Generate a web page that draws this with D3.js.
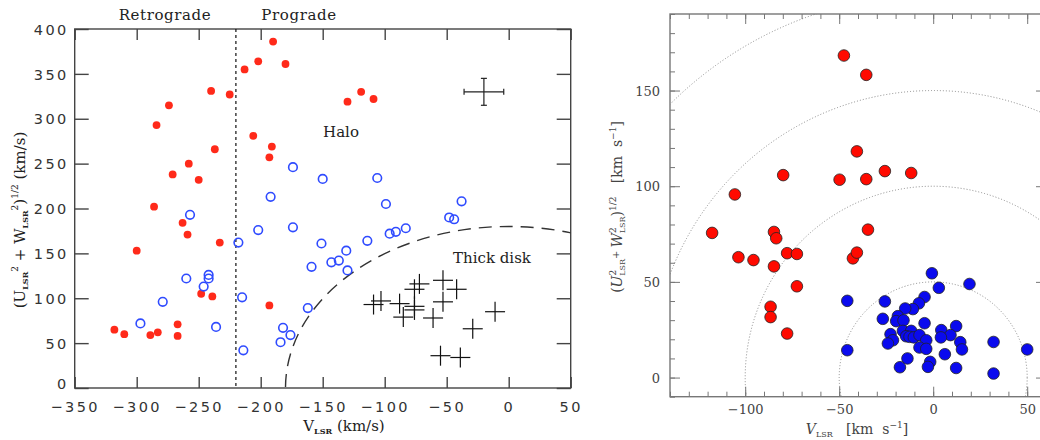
<!DOCTYPE html>
<html>
<head>
<meta charset="utf-8">
<script src="https://cdn.jsdelivr.net/npm/d3@7"></script>
<style>
  body { margin: 0; background: #fff; }
  svg { display: block; }
  .pre { white-space: pre; }
</style>
</head>
<body>
<div id="chart"></div>
<script>
// ---- left panel (Toomre diagram) ----
const haloRed = [
  [-190, 386], [-213, 355], [-202, 364], [-180, 361], [-240, 331], [-225, 327],
  [-274, 315], [-284, 293], [-206, 281], [-191, 269], [-237, 266], [-193, 257],
  [-258, 250], [-271, 238], [-250, 232], [-286, 202], [-119, 330], [-109, 322],
  [-130, 319], [-263, 184], [-259, 171], [-233, 162], [-300, 153], [-248, 105],
  [-239, 102], [-193, 92], [-267, 71], [-318, 65], [-310, 60], [-289, 59],
  [-283, 62], [-267, 58]
];
const haloBlue = [
  [-174, 246], [-192, 213], [-257, 193], [-150, 233], [-106, 234], [-99, 205],
  [-38, 208], [-48, 190], [-44, 188], [-174, 179], [-96, 172], [-91, 174],
  [-83, 178], [-151, 161], [-114, 164], [-131, 153], [-159, 135], [-143, 140],
  [-137, 142], [-130, 131], [-162, 89], [-182, 67], [-176, 59], [-184, 51],
  [-202, 176], [-218, 162], [-260, 122], [-242, 126], [-242, 122], [-246, 113],
  [-279, 96], [-215, 101], [-297, 72], [-236, 68], [-214, 42]
];
const thickDisk = [
  [-72, 116], [-76, 110], [-53, 120], [-42, 110], [-103, 97], [-109, 93],
  [-88, 94], [-76, 91], [-53, 96], [-76, 87], [-85, 79], [-61, 78],
  [-11, 85], [-29, 66], [-55, 36], [-39, 34]
];
const errV = -20, errY = 330, errDV = 16, errDY = 15;
const diskRadius = 180;      // dashed thick disk boundary
const progradeLimit = -220;  // dotted retrograde / prograde split
const leftXTicks = [-350, -300, -250, -200, -150, -100, -50, 0, 50];
const leftYTicks = [0, 50, 100, 150, 200, 250, 300, 350, 400];

// ---- right panel ----
const rightRed = [
  [-47.5, 168.3], [-35.6, 158.2], [-40.6, 118.2], [-79.8, 105.8], [-105.5, 95.7],
  [-49.8, 103.4], [-35.6, 103.7], [-25.7, 107.9], [-11.7, 106.9], [-117.6, 75.6],
  [-84.7, 76.1], [-83.5, 72.8], [-34.7, 77.3], [-103.6, 62.9], [-95.6, 61.4],
  [-77.7, 65], [-72.5, 64.6], [-84.7, 58.1], [-42.7, 62.3], [-40.6, 65.3],
  [-72.5, 47.7], [-86.5, 37], [-86.5, 31.6], [-77.7, 23]
];
const rightBlue = [
  [-0.7, 54.5], [19.3, 48.9], [3, 46.9], [-45.7, 40.1], [-25.7, 39.8], [-4.6, 42.1],
  [-7.6, 38.8], [-10.8, 35.8], [-14.9, 36.1], [-26.8, 30.7], [-18.8, 32.1], [-19.7, 29.5],
  [-15.8, 29.9], [-4.6, 28.4], [12.2, 26.9], [4.3, 24.8], [9.2, 22.2], [4.1, 21],
  [-16.1, 24.4], [-11.7, 24.4], [-22.7, 22.7], [-14.4, 21.6], [-12.6, 21.3], [-10.3, 21],
  [-7.3, 22.2], [-3.7, 19.5], [-21.4, 19.5], [-24.1, 17.8], [14.4, 18.5], [32.1, 18.6],
  [-45.7, 14.3], [-7.3, 15.7], [-3.7, 15], [15.3, 14.7], [6.2, 12.2], [50, 14.7],
  [-13.7, 10], [-1.6, 8.2], [-17.7, 5.4], [-2.8, 5.6], [12.2, 5], [32.1, 2.1]
];
const rings = [50, 100, 150, 200];
const rightXTicks = [-100, -50, 0, 50];
const rightYTicks = [0, 50, 100, 150];
const rightMinor = 10;

const W = 1040, H = 440;
const svg = d3.select('#chart').append('svg').attr('width', W).attr('height', H);
const defs = svg.append('defs');

// write text made of pieces with sub / superscripts
function richText(sel, parts) {
  let shift = 0;
  parts.forEach(p => {
    const s = p.s || 0;
    const ts = sel.append('tspan').text(p.t).attr('dy', s - shift);
    shift = s;
    if (p.size) ts.attr('font-size', p.size);
    if (p.dx) ts.attr('dx', p.dx);
    if (p.it) ts.attr('font-style', 'italic');
    if (p.bold) ts.attr('font-weight', 'bold');
  });
}

function styleAxis(g, color, width) {
  g.select('.domain').remove();
  g.selectAll('.tick line').attr('stroke', color).attr('stroke-width', width);
}

function drawLeft() {
  const x = d3.scaleLinear().domain([-350, 50]).range([74.7, 570.7]);
  const y = d3.scaleLinear().domain([0, 400]).range([388, 29]);
  const g = svg.append('g').attr('class', 'left');
  const axisColor = '#444';

  defs.append('clipPath').attr('id', 'clipL').append('rect')
    .attr('x', x(-350)).attr('y', y(400))
    .attr('width', x(50) - x(-350)).attr('height', y(0) - y(400));

  // ticks all around, pointing in
  const bottom = g.append('g').attr('transform', `translate(0,${y(0)})`)
    .call(d3.axisBottom(x).tickValues(leftXTicks).tickSize(-11).tickPadding(14));
  const left = g.append('g').attr('transform', `translate(${x(-350)},0)`)
    .call(d3.axisLeft(y).tickValues(leftYTicks).tickSize(-14).tickPadding(6));
  const top = g.append('g').attr('transform', `translate(0,${y(400)})`)
    .call(d3.axisTop(x).tickValues(leftXTicks).tickSize(-11).tickFormat(''));
  const right = g.append('g').attr('transform', `translate(${x(50)},0)`)
    .call(d3.axisRight(y).tickValues(leftYTicks).tickSize(-14).tickFormat(''));
  [bottom, left, top, right].forEach(a => styleAxis(a, axisColor, 1.4));
  [bottom, left].forEach(a => a.selectAll('text')
    .attr('font-family', 'DejaVu Sans').attr('font-size', 14.5)
    .attr('letter-spacing', '2.4px').attr('fill', '#333'));
  left.selectAll('text').attr('dy', '0.36em');
  left.selectAll('.tick').filter(d => d === 0).select('text').attr('dy', '0.05em');
  bottom.selectAll('text').attr('dy', '0.72em');

  g.append('rect')
    .attr('x', x(-350)).attr('y', y(400))
    .attr('width', x(50) - x(-350)).attr('height', y(0) - y(400))
    .attr('fill', 'none').attr('stroke', axisColor).attr('stroke-width', 1.4);

  // retrograde / prograde split
  g.append('line')
    .attr('x1', x(progradeLimit)).attr('x2', x(progradeLimit))
    .attr('y1', y(400)).attr('y2', y(0))
    .attr('stroke', '#111').attr('stroke-width', 1.2).attr('stroke-dasharray', '3,3');

  // thick disk boundary (circle of constant total speed)
  g.append('ellipse')
    .attr('cx', x(0)).attr('cy', y(0))
    .attr('rx', x(diskRadius) - x(0)).attr('ry', y(0) - y(diskRadius))
    .attr('fill', 'none').attr('stroke', '#333').attr('stroke-width', 1.4)
    .attr('stroke-dasharray', '13,8').attr('clip-path', 'url(#clipL)');

  g.append('g').selectAll('circle').data(haloRed).join('circle')
    .attr('cx', d => x(d[0])).attr('cy', d => y(d[1])).attr('r', 3.9)
    .attr('fill', '#ff2a1a');

  g.append('g').selectAll('circle').data(haloBlue).join('circle')
    .attr('cx', d => x(d[0])).attr('cy', d => y(d[1])).attr('r', 4.3)
    .attr('fill', 'none').attr('stroke', '#2f4bff').attr('stroke-width', 1.6);

  const arm = 10;
  const crosses = g.append('g').selectAll('g').data(thickDisk).join('g')
    .attr('transform', d => `translate(${x(d[0])},${y(d[1])})`)
    .attr('stroke', '#111').attr('stroke-width', 1.2);
  crosses.append('line').attr('x1', -arm).attr('x2', arm);
  crosses.append('line').attr('y1', -arm).attr('y2', arm);

  // typical error
  const eb = g.append('g').attr('stroke', '#222').attr('stroke-width', 1.2);
  eb.append('line').attr('x1', x(errV - errDV)).attr('x2', x(errV + errDV))
    .attr('y1', y(errY)).attr('y2', y(errY));
  eb.append('line').attr('x1', x(errV)).attr('x2', x(errV))
    .attr('y1', y(errY - errDY)).attr('y2', y(errY + errDY));
  [errV - errDV, errV + errDV].forEach(v => eb.append('line')
    .attr('x1', x(v)).attr('x2', x(v)).attr('y1', y(errY) - 3).attr('y2', y(errY) + 3));
  [errY - errDY, errY + errDY].forEach(v => eb.append('line')
    .attr('x1', x(errV) - 3).attr('x2', x(errV) + 3).attr('y1', y(v)).attr('y2', y(v)));

  const serif = 'DejaVu Serif';
  const label = (t, px, py) => g.append('text').text(t)
    .attr('x', px).attr('y', py).attr('text-anchor', 'middle')
    .attr('font-family', serif).attr('font-size', 15).attr('fill', '#222');
  label('Retrograde', 165, 20).attr('letter-spacing', '0.6px');
  label('Prograde', 299, 20).attr('letter-spacing', '0.6px');
  label('Halo', 341, 137);
  label('Thick disk', 492, 263);

  const xl = g.append('text').attr('x', 344).attr('y', 431).attr('text-anchor', 'middle')
    .attr('font-family', serif).attr('font-size', 15).attr('fill', '#222');
  richText(xl, [{ t: 'V' }, { t: 'LSR', s: 3, size: 8, bold: true }, { t: ' (km/s)', s: 0 }]);

  const yl = g.append('text').attr('transform', 'translate(25,220) rotate(-90)')
    .attr('text-anchor', 'middle')
    .attr('font-family', serif).attr('font-size', 15).attr('fill', '#222');
  richText(yl, [
    { t: '(U' }, { t: 'LSR', s: 3, size: 8, bold: true }, { t: '2', s: -7, size: 9 },
    { t: ' + W', s: 0 }, { t: 'LSR', s: 3, size: 8, bold: true }, { t: '2', s: -7, size: 9 },
    { t: ')', s: 0 }, { t: '1/2', s: -7, size: 9 }, { t: ' (km/s)', s: 0 }
  ]);
}

function drawRight() {
  const x = d3.scaleLinear().domain([-140, 60]).range([670, 1046]);
  const y = d3.scaleLinear().domain([-10, 190]).range([396.7, 14]);
  const g = svg.append('g').attr('class', 'right');
  const axisColor = '#777';

  defs.append('clipPath').attr('id', 'clipR').append('rect')
    .attr('x', x(-140)).attr('y', y(190))
    .attr('width', x(60) - x(-140)).attr('height', y(-10) - y(190));

  // dotted rings of constant peculiar speed
  g.append('g').attr('clip-path', 'url(#clipR)')
    .selectAll('ellipse').data(rings).join('ellipse')
    .attr('cx', x(0)).attr('cy', y(0))
    .attr('rx', d => x(d) - x(0)).attr('ry', d => y(0) - y(d))
    .attr('fill', 'none').attr('stroke', '#888').attr('stroke-width', 1)
    .attr('stroke-dasharray', '1,2');

  const minorX = d3.range(-140, 61, rightMinor);
  const minorY = d3.range(-10, 191, rightMinor);
  const axes = [];
  axes.push(g.append('g').attr('transform', `translate(0,${y(-10)})`)
    .call(d3.axisBottom(x).tickValues(minorX).tickSize(-5).tickFormat('')));
  axes.push(g.append('g').attr('transform', `translate(0,${y(190)})`)
    .call(d3.axisTop(x).tickValues(minorX).tickSize(-5).tickFormat('')));
  axes.push(g.append('g').attr('transform', `translate(${x(-140)},0)`)
    .call(d3.axisLeft(y).tickValues(minorY).tickSize(-5).tickFormat('')));
  axes.push(g.append('g').attr('transform', `translate(${x(60)},0)`)
    .call(d3.axisRight(y).tickValues(minorY).tickSize(-5).tickFormat('')));
  const bottom = g.append('g').attr('transform', `translate(0,${y(-10)})`)
    .call(d3.axisBottom(x).tickValues(rightXTicks).tickSize(-10).tickPadding(8));
  const left = g.append('g').attr('transform', `translate(${x(-140)},0)`)
    .call(d3.axisLeft(y).tickValues(rightYTicks).tickSize(-10).tickPadding(10));
  axes.push(bottom, left);
  axes.push(g.append('g').attr('transform', `translate(0,${y(190)})`)
    .call(d3.axisTop(x).tickValues(rightXTicks).tickSize(-10).tickFormat('')));
  axes.push(g.append('g').attr('transform', `translate(${x(60)},0)`)
    .call(d3.axisRight(y).tickValues(rightYTicks).tickSize(-10).tickFormat('')));
  axes.forEach(a => styleAxis(a, axisColor, 1));
  [bottom, left].forEach(a => a.selectAll('text')
    .attr('font-family', 'DejaVu Serif').attr('font-size', 13).attr('fill', '#444'));
  left.selectAll('text').attr('dy', '0.36em');
  bottom.selectAll('text').attr('dy', '0.72em');

  g.append('rect')
    .attr('x', x(-140)).attr('y', y(190))
    .attr('width', x(60) - x(-140)).attr('height', y(-10) - y(190))
    .attr('fill', 'none').attr('stroke', axisColor).attr('stroke-width', 1.4);

  g.append('g').selectAll('circle').data(rightRed).join('circle')
    .attr('cx', d => x(d[0])).attr('cy', d => y(d[1])).attr('r', 5.8)
    .attr('fill', '#ff0a00').attr('stroke', '#222').attr('stroke-width', 0.8);
  g.append('g').selectAll('circle').data(rightBlue).join('circle')
    .attr('cx', d => x(d[0])).attr('cy', d => y(d[1])).attr('r', 5.8)
    .attr('fill', '#0a0aee').attr('stroke', '#222').attr('stroke-width', 0.8);

  const serif = 'DejaVu Serif';
  const xl = g.append('text').attr('class', 'pre').attr('x', 857).attr('y', 434)
    .attr('text-anchor', 'middle')
    .attr('font-family', serif).attr('font-size', 14).attr('fill', '#444');
  richText(xl, [{ t: 'V', it: true }, { t: 'LSR', s: 3, size: 8 },
    { t: '   [km  s', s: 0 }, { t: '−1', s: -6, size: 9 }, { t: ']', s: 0 }]);

  const yl = g.append('text').attr('class', 'pre')
    .attr('transform', 'translate(622,207) rotate(-90)')
    .attr('text-anchor', 'middle')
    .attr('font-family', serif).attr('font-size', 14).attr('fill', '#444');
  richText(yl, [
    { t: '(' }, { t: 'U', it: true }, { t: '2', s: -6, size: 9 }, { t: 'LSR', s: 3, size: 8, dx: -6 },
    { t: '+ ', s: -3, size: 10 }, { t: 'W', s: 0, it: true }, { t: '2', s: -6, size: 9 },
    { t: 'LSR', s: 3, size: 8, dx: -6 }, { t: ')', s: 0 }, { t: '1/2', s: -6, size: 9 },
    { t: '   [km  s', s: 0 }, { t: '−1', s: -6, size: 9 }, { t: ']', s: 0 }
  ]);
}

drawLeft();
drawRight();
</script>
</body>
</html>
